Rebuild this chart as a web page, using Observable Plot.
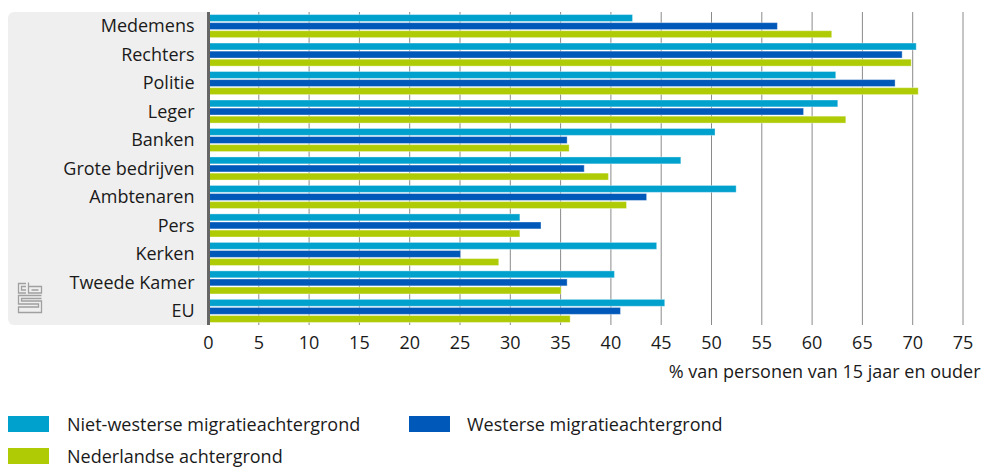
<!DOCTYPE html>
<html>
<head>
<meta charset="utf-8">
<script src="https://cdn.jsdelivr.net/npm/d3@7"></script>
<script src="https://cdn.jsdelivr.net/npm/@observablehq/plot@0.6"></script>
<style>
  html, body { margin: 0; padding: 0; background: #fff; }
  #wrap { position: relative; width: 982px; height: 468px; font-family: "Open Sans", sans-serif; color: #1a1a1a; overflow: hidden; }
  #panel { position: absolute; left: 8px; top: 12px; width: 199px; height: 313px; background: #efefef; border-radius: 6px 0 0 6px; }
  #chart { position: absolute; left: 0; top: 0; }
  .lg { position: absolute; font-size: 18px; line-height: 20px; white-space: nowrap; }
  .sw { position: absolute; width: 41px; height: 16px; }
</style>
</head>
<body>
<div id="wrap">
  <div id="panel">
    <svg width="26" height="32" viewBox="0 0 26 32" style="position:absolute;left:9px;top:270px">
      <g fill="none" stroke="#a0a0a0" stroke-width="1.3">
        <path d="M9 1.5H1.5V11H9M9 4.5H4.5V8H9"/>
        <path d="M11.5 0.5V11H24.5V4.5H11.5M14.5 8H21.5"/>
        <path d="M24.5 13.5H1.5V22H21.5V25H1.5V30.5H24.5V19H4.5V16.5H24.5"/>
      </g>
    </svg>
  </div>
  <div id="chart"></div>
  <div id="legend"></div>
</div>
<script>
const categories = ["Medemens","Rechters","Politie","Leger","Banken","Grote bedrijven","Ambtenaren","Pers","Kerken","Tweede Kamer","EU"];
const seriesNames = ["Niet-westerse migratieachtergrond","Westerse migratieachtergrond","Nederlandse achtergrond"];
const seriesColors = ["#00a1cd","#0058b8","#afcb05"];
const nietWesters = [42.2,70.4,62.4,62.6,50.4,47.0,52.5,31.0,44.6,40.4,45.4];
const westers     = [56.6,69.0,68.3,59.2,35.7,37.4,43.6,33.1,25.1,35.7,41.0];
const nederlands  = [62.0,69.9,70.6,63.4,35.9,39.8,41.6,31.0,28.9,35.1,36.0];
const xTicks = [0,5,10,15,20,25,30,35,40,45,50,55,60,65,70,75];
const gridTicks = [5,10,15,20,25,30,35,40,45,50,55,60,65,70,75];
const xLabel = "% van personen van 15 jaar en ouder";

const W = 982, H = 395, mT = 12, mB = 70, mL = 208, mR = 19.5;
const pIn = 0.19, pOut = 0.09;
const step = (H - mT - mB) / (categories.length - pIn + 2 * pOut);
const bw = step * (1 - pIn);
const barH = 6.9, pitch = (bw - barH) / 2;

const allSeries = [nietWesters, westers, nederlands];
const marks = [
  Plot.ruleX(gridTicks, {stroke: "#8a8a8a", strokeWidth: 1})
];
allSeries.forEach((vals, i) => {
  const data = categories.map((c, j) => ({cat: c, value: vals[j]}));
  marks.push(Plot.barX(data, {
    x: "value", y: "cat",
    fill: seriesColors[i],
    stroke: "#ffffff", strokeOpacity: 0.35, strokeWidth: 1,
    insetTop: i * pitch,
    insetBottom: bw - i * pitch - barH
  }));
});
marks.push(Plot.ruleX([0], {stroke: "#666666", strokeWidth: 3}));
marks.push(Plot.text([xLabel], {
  text: d => d, frameAnchor: "bottom-right", textAnchor: "end", lineAnchor: "middle",
  dx: 17.5, dy: 47, fill: "#1a1a1a", fontSize: 18
}));

const chart = Plot.plot({
  width: W, height: H,
  marginTop: mT, marginBottom: mB, marginLeft: mL, marginRight: mR,
  style: {fontFamily: "Open Sans, sans-serif", fontSize: "18px", color: "#1a1a1a", background: "transparent", overflow: "visible"},
  x: {domain: [0, 75], ticks: xTicks, tickSize: 0, tickPadding: 11, label: null},
  y: {domain: categories, paddingInner: pIn, paddingOuter: pOut, round: false, tickSize: 0, tickPadding: 14, label: null},
  marks
});
document.getElementById("chart").appendChild(chart);

const legend = document.getElementById("legend");
const pos = [{x: 8, tx: 67, y: 416}, {x: 409, tx: 467, y: 416}, {x: 8, tx: 67, y: 448}];
seriesNames.forEach((name, i) => {
  const sw = document.createElement("div");
  sw.className = "sw";
  sw.style.left = pos[i].x + "px";
  sw.style.top = pos[i].y + "px";
  sw.style.background = seriesColors[i];
  legend.appendChild(sw);
  const t = document.createElement("div");
  t.className = "lg";
  t.style.left = pos[i].tx + "px";
  t.style.top = (pos[i].y - 2) + "px";
  t.textContent = name;
  legend.appendChild(t);
});
</script>
</body>
</html>
